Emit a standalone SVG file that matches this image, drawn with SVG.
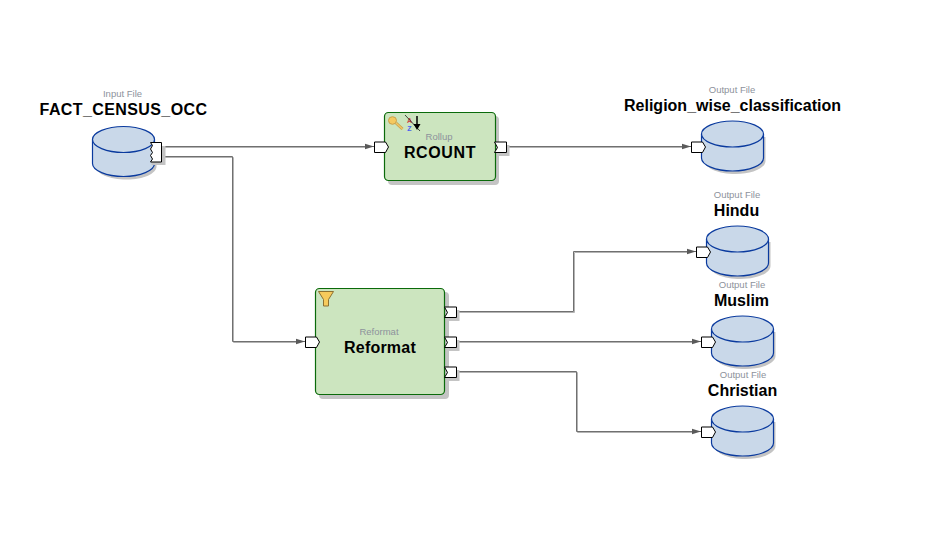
<svg xmlns="http://www.w3.org/2000/svg" width="950" height="559" viewBox="0 0 950 559">
<style>
.small{font:9.500px "Liberation Sans",Arial,sans-serif;fill:#8d929c;text-anchor:middle}
.big{font:bold 16px "Liberation Sans",Arial,sans-serif;fill:#000;text-anchor:middle}
.conn{fill:none;stroke:#707070;stroke-width:1}
.connshadow{fill:none;stroke:#b4b4b4;stroke-width:1}
.shadow{fill:#c4c4c4;stroke:none}
.body{fill:#c9d8e9;stroke:#0a3a9e;stroke-width:1.200}
.box{fill:#cce5bf;stroke:#0a6a0a;stroke-width:1.200}
.port{fill:#fff;stroke:#000;stroke-width:1}
</style>
<defs>
<marker id="arrow" markerUnits="userSpaceOnUse" markerWidth="9" markerHeight="7" refX="9" refY="3.500" orient="auto"><path d="M0 0.800L9 3.500L0 6.200z" fill="#5a5a5a"/></marker>
<g id="db">
<path class="shadow" d="M3 16v24c0 7 14 13 31 13s30-6 30-13v-24z"/>
<path class="body" d="M0 13v24c0 7 14 13 31 13s31-6 31-13v-24"/>
<path class="body" d="M0 13c0-7 14-13 31-13s31 6 31 13-14 13-31 13S0 20 0 13z"/>
</g>
<g id="pin"><path class="port" d="M0 0h11l3 5-3 5.500H0z"/></g>
<g id="pout"><path class="shadow" d="M12 3h3v11H3v-3h9z"/><path class="port" d="M0 0h12v10.500H0l3-5z"/></g>
</defs>
<rect width="950" height="559" fill="#fff"/>
<g id="connectors">
<g class="connshadow" transform="translate(1 1)">
<path d="M162 146.500H366"/>
<path d="M162 156.500H232.500V341.500H297"/>
<path d="M506 146.500H683"/>
<path d="M456 311.500H573.500V251.500H688"/>
<path d="M456 341.500H693"/>
<path d="M456 371.500H576.500V431.500H693"/>
</g>
<path class="conn" marker-end="url(#arrow)" d="M162 146.500H374"/>
<path class="conn" marker-end="url(#arrow)" d="M162 156.500H232.500V341.500H305"/>
<path class="conn" marker-end="url(#arrow)" d="M506 146.500H691"/>
<path class="conn" marker-end="url(#arrow)" d="M456 311.500H573.500V251.500H696"/>
<path class="conn" marker-end="url(#arrow)" d="M456 341.500H701"/>
<path class="conn" marker-end="url(#arrow)" d="M456 371.500H576.500V431.500H701"/>
</g>
<g id="fact-census-occ">
<text class="small" x="122.500" y="97">Input File</text>
<text class="big" x="123.500" y="115" letter-spacing=".4">FACT_CENSUS_OCC</text>
<use href="#db" x="92.500" y="126.500"/>
<path class="shadow" d="M162 146h3.500v19h-14v-3h10.500z"/>
<path class="port" d="M150.500 142.500h11v19.500h-11l2-3-2-3.500 2-3-2-3.500 2-3.500z"/>
</g>
<g id="rcount">
<rect class="shadow" x="388" y="116" width="111" height="69" rx="4"/>
<rect class="box" x="384.500" y="112.500" width="111" height="68" rx="4"/>
<g id="key">
<path d="M396 123L402.500 129" stroke="#c9a04a" stroke-width="3" fill="none"/>
<path d="M396 123L402.500 129" stroke="#f0c866" stroke-width="1.500" fill="none"/>
<ellipse cx="392.500" cy="120.500" rx="4" ry="3.800" fill="#f5c95f" stroke="#c9a04a"/>
</g>
<text x="409.500" y="122.500" font-family="Liberation Sans,sans-serif" font-size="7" font-weight="bold" fill="#d04848" text-anchor="middle">A</text>
<text x="409.500" y="130.500" font-family="Liberation Sans,sans-serif" font-size="7" font-weight="bold" fill="#4a60f0" text-anchor="middle">Z</text>
<path d="M417 116v9" stroke="#000" stroke-width="1.500"/>
<path d="M413.500 124h7l-3.500 6z" fill="#000"/>
<path d="M405 115L420 131" stroke="#000" stroke-width=".7"/>
<text class="small" x="439" y="140">Rollup</text>
<text class="big" x="440" y="158" letter-spacing=".6">RCOUNT</text>
<use href="#pin" x="374.500" y="142"/>
<use href="#pout" x="494.500" y="142"/>
</g>
<g id="reformat">
<rect class="shadow" x="319" y="292" width="130" height="107" rx="4"/>
<rect class="box" x="315.500" y="288.500" width="129" height="106" rx="4"/>
<path d="M318.500 291.500h15l-5 8v6.500h-5v-6.500z" fill="#f7cb5c" stroke="#8d7130"/>
<text class="small" x="379" y="335">Reformat</text>
<text class="big" x="380" y="353" letter-spacing=".2">Reformat</text>
<use href="#pin" x="305.500" y="337"/>
<use href="#pout" x="444.500" y="307"/>
<use href="#pout" x="444.500" y="337"/>
<use href="#pout" x="444.500" y="367"/>
</g>
<g id="religion-wise-classification">
<text class="small" x="732" y="93">Output File</text>
<text class="big" x="732.500" y="111">Religion_wise_classification</text>
<use href="#db" x="701.500" y="121"/>
<use href="#pin" x="691.500" y="142"/>
</g>
<g id="hindu">
<text class="small" x="737" y="198">Output File</text>
<text class="big" x="736.500" y="216">Hindu</text>
<use href="#db" x="706.500" y="226"/>
<use href="#pin" x="696.500" y="247"/>
</g>
<g id="muslim">
<text class="small" x="742" y="288">Output File</text>
<text class="big" x="741.500" y="306">Muslim</text>
<use href="#db" x="711.500" y="316"/>
<use href="#pin" x="701.500" y="337"/>
</g>
<g id="christian">
<text class="small" x="743" y="378">Output File</text>
<text class="big" x="742.500" y="396">Christian</text>
<use href="#db" x="711.500" y="406"/>
<use href="#pin" x="701.500" y="427"/>
</g>
</svg>
